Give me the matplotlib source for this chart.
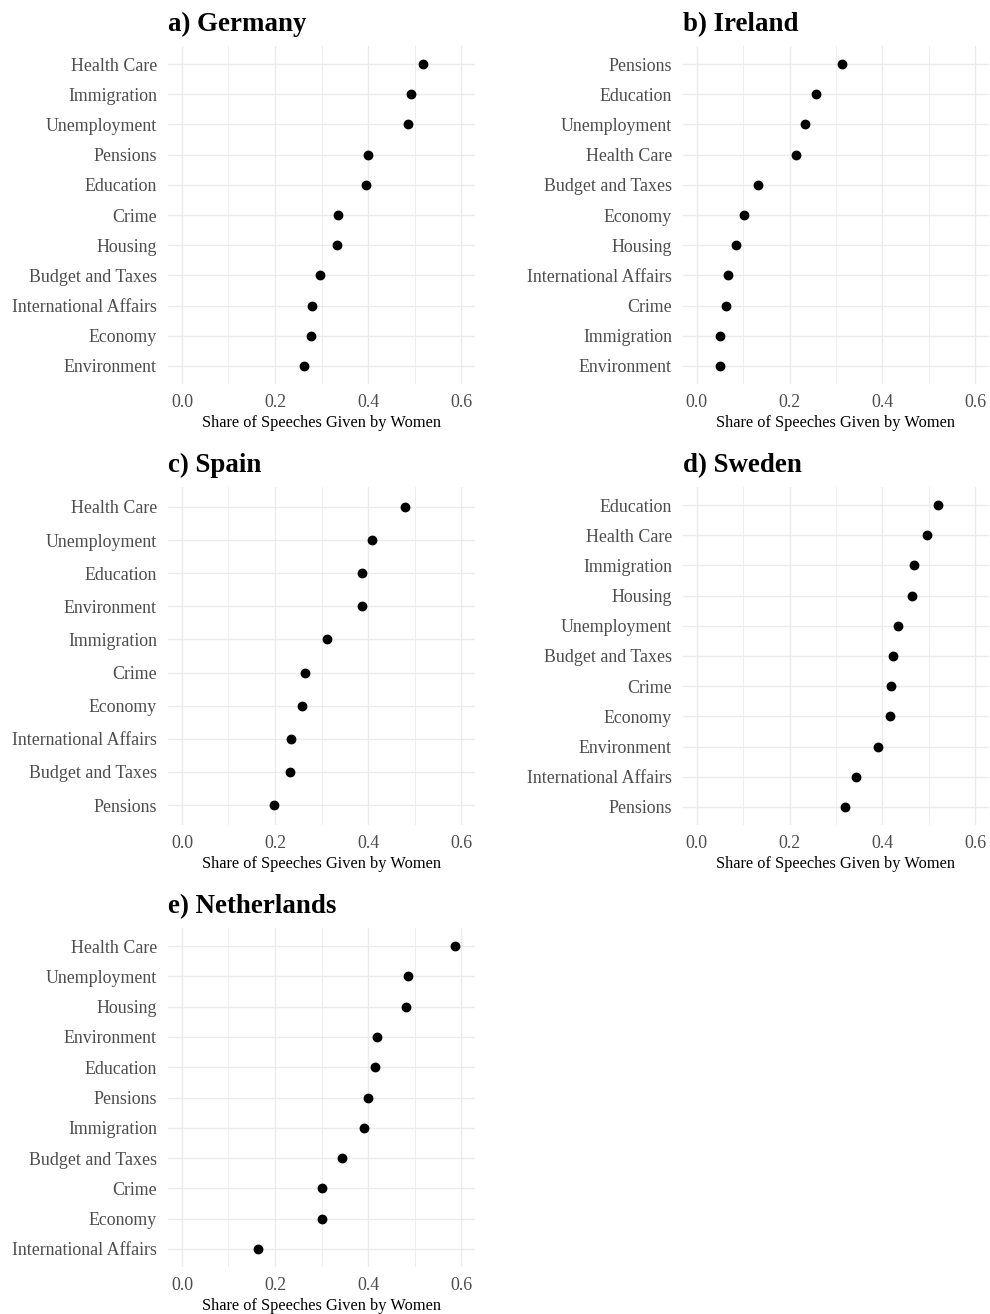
import matplotlib
matplotlib.use("Agg")
import matplotlib.pyplot as plt
import numpy as np

plt.rcParams['font.family'] = ['Liberation Serif', 'DejaVu Serif']

# Anteil der Reden von Frauen je Thema, sortiert von oben nach unten
de_topics = ['Health Care', 'Immigration', 'Unemployment', 'Pensions', 'Education', 'Crime',
             'Housing', 'Budget and Taxes', 'International Affairs', 'Economy', 'Environment']
de_share = [0.518, 0.493, 0.486, 0.399, 0.395, 0.336, 0.334, 0.297, 0.279, 0.277, 0.262]

ie_topics = ['Pensions', 'Education', 'Unemployment', 'Health Care', 'Budget and Taxes', 'Economy',
             'Housing', 'International Affairs', 'Crime', 'Immigration', 'Environment']
ie_share = [0.313, 0.257, 0.234, 0.213, 0.132, 0.102, 0.085, 0.067, 0.063, 0.050, 0.049]

es_topics = ['Health Care', 'Unemployment', 'Education', 'Environment', 'Immigration', 'Crime',
             'Economy', 'International Affairs', 'Budget and Taxes', 'Pensions']
es_share = [0.479, 0.409, 0.386, 0.386, 0.311, 0.265, 0.259, 0.234, 0.233, 0.198]

se_topics = ['Education', 'Health Care', 'Immigration', 'Housing', 'Unemployment', 'Budget and Taxes',
             'Crime', 'Economy', 'Environment', 'International Affairs', 'Pensions']
se_share = [0.521, 0.496, 0.468, 0.463, 0.433, 0.424, 0.418, 0.417, 0.390, 0.344, 0.320]

nl_topics = ['Health Care', 'Unemployment', 'Housing', 'Environment', 'Education', 'Pensions',
             'Immigration', 'Budget and Taxes', 'Crime', 'Economy', 'International Affairs']
nl_share = [0.586, 0.487, 0.481, 0.419, 0.416, 0.399, 0.392, 0.344, 0.300, 0.300, 0.163]

W, H = 990, 1314
fig = plt.figure(figsize=(W/100, H/100), dpi=100)
fig.patch.set_facecolor('white')

def px_axes(left, top, right, bottom):
    return fig.add_axes([left/W, 1 - bottom/H, (right-left)/W, (bottom-top)/H])

panels = [
    ('a) Germany', de_topics, de_share, (168, 46, 475, 384)),
    ('b) Ireland', ie_topics, ie_share, (683, 46, 989, 384)),
    ('c) Spain', es_topics, es_share, (168, 487, 475, 825)),
    ('d) Sweden', se_topics, se_share, (683, 487, 989, 825)),
    ('e) Netherlands', nl_topics, nl_share, (168, 928, 475, 1267)),
]

for title, topics, share, box in panels:
    ax = px_axes(*box)
    n = len(topics)
    y = np.arange(n)[::-1]
    ax.set_xlim(-0.03, 0.63)
    ax.set_ylim(-0.6, n - 1 + 0.6)
    # Gitterlinien: Hauptlinien und feinere Zwischenlinien
    for xv in [0.1, 0.3, 0.5]:
        ax.axvline(xv, color='#EBEBEB', lw=0.6, zorder=0)
    for xv in [0.0, 0.2, 0.4, 0.6]:
        ax.axvline(xv, color='#EBEBEB', lw=1.0, zorder=0)
    for yv in y:
        ax.axhline(yv, color='#EBEBEB', lw=1.0, zorder=0)
    ax.scatter(share, y, s=50, color='black', zorder=3, linewidths=0)
    ax.set_yticks(y)
    ax.set_yticklabels(topics)
    ax.set_xticks([0.0, 0.2, 0.4, 0.6])
    ax.set_xticklabels(['0.0', '0.2', '0.4', '0.6'])
    ax.tick_params(length=0, labelsize=12.9, labelcolor='#4D4D4D', pad=7)
    ax.tick_params(axis='y', pad=8)
    for s in ax.spines.values():
        s.set_visible(False)
    ax.set_xlabel('Share of Speeches Given by Women', fontsize=11.8, labelpad=3)
    ax.set_title(title, loc='left', fontsize=19.4, fontweight='bold', pad=11)

fig.savefig('out.png', dpi=100, facecolor='white')
